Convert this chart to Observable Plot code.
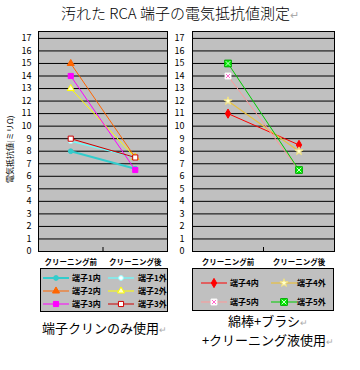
<!DOCTYPE html>
<html><head><meta charset="utf-8">
<script src="https://cdn.jsdelivr.net/npm/d3@7"></script>
<script src="https://cdn.jsdelivr.net/npm/@observablehq/plot@0.6"></script>
<style>
body{margin:0;background:#fff;font-family:"Noto Sans CJK JP","Noto Sans",sans-serif;}
#root{position:relative;width:360px;height:370px;overflow:hidden;}
.abs{position:absolute;white-space:nowrap;}
.ret{color:#aaa;font-size:0.7em;}
svg{overflow:visible;}
</style></head><body><div id="root"></div>
<script>
// ---- data ----
const categories = ["クリーニング前", "クリーニング後"];
const yTicks = [0,1,2,3,4,5,6,7,8,9,10,11,12,13,14,15,16,17];
const leftSeries = ["端子1内", "端子1外", "端子2内", "端子2外", "端子3内", "端子3外"];
const leftBefore = [8, 8.8, 15, 13, 14, 9];
const leftAfter  = [6.6, 7.5, 7.5, 7.5, 6.5, 7.5];
const rightSeries = ["端子4内", "端子4外", "端子5内", "端子5外"];
const rightBefore = [11, 12, 14, 15];
const rightAfter  = [8.5, 8, 6.5, 6.5];
const titleText = "汚れた RCA 端子の電気抵抗値測定";
const yLabel = "電気抵抗値(ミリΩ)";
const leftCaption = ["端子クリンのみ使用"];
const rightCaption = ["綿棒+ブラシ", "+クリーニング液使用"];

// ---- styles ----
const leftStyles = [
  {stroke:"#33cccc", width:2,   symbol:"circle",   fill:"#33cccc", mstroke:"#33cccc", r:2.4},
  {stroke:"#66ffff", width:1.2, symbol:"circle",   fill:"#ffffff", mstroke:"#99ffff", r:2.4},
  {stroke:"#ff6600", width:1,   symbol:"triangle", fill:"#ff6600", mstroke:"#ff6600", r:2.6},
  {stroke:"#ffff00", width:1,   symbol:"triangle", fill:"#ffffcc", mstroke:"#ffff00", r:2.6},
  {stroke:"#ff00ff", width:1,   symbol:"square",   fill:"#ff00ff", mstroke:"#ff00ff", r:2.9},
  {stroke:"#cc0000", width:1,   symbol:"square",   fill:"#ffffff", mstroke:"#cc0000", r:2.9}
];
const rightStyles = [
  {stroke:"#ff0000", width:1,   symbol:"diamond", fill:"#ff0000", mstroke:"#ff0000", r:2.8},
  {stroke:"#e8c040", width:1.2, symbol:"star",    fill:"#ffffcc", mstroke:"#f0e080", r:2.6},
  {stroke:"#ff9999", width:1,   symbol:"square",  fill:"#ffffff", mstroke:"#ffffff", r:3.3, cross:"#ff66cc"},
  {stroke:"#00cc00", width:1,   symbol:"square",  fill:"#00ee00", mstroke:"#00aa00", r:3.8, cross:"#ccffcc"}
];

const root = document.getElementById("root");
function addText(lines, left, top, size, extra = {}) {
  const d = document.createElement("div");
  d.className = "abs";
  Object.assign(d.style, {left: left + "px", top: top + "px", fontSize: size + "px", lineHeight: (extra.lh || size * 1.3) + "px"}, extra.style || {});
  d.innerHTML = lines.map(t => `${t}<span class="ret">↵</span>`).join("<br>");
  root.appendChild(d);
  return d;
}

function chart(series, before, after, styles, o) {
  const rows = series.flatMap((s, i) => [
    {i, x: 0.5, v: before[i]},
    {i, x: 1.5, v: after[i]}
  ]);
  const marks = [
    Plot.frame({fill: "#c0c0c0"}),
    Plot.gridY(yTicks, {stroke: "#000", strokeOpacity: 1}),
    Plot.axisY(yTicks, {tickSize: 0, tickPadding: o.pad, fontSize: 9, label: null, fill: "#000"}),
    Plot.axisX([0.5, 1.5], {tickSize: 0, tickPadding: 8, tickFormat: d => categories[Math.floor(d)], fontSize: 7.5, fontWeight: "bold", label: null}),
    Plot.axisX([1], {tickSize: -4, tickFormat: () => "", label: null, stroke: "#000"}),
    Plot.frame({stroke: "#000"})
  ];
  series.forEach((s, i) => {
    const st = styles[i];
    const d = rows.filter(r => r.i === i);
    marks.push(Plot.line(d, {x: "x", y: "v", stroke: st.stroke, strokeWidth: st.width}));
    marks.push(Plot.dot(d, {x: "x", y: "v", symbol: st.symbol, r: st.r, fill: st.fill, stroke: st.mstroke, strokeWidth: 1}));
    if (st.cross) marks.push(Plot.dot(d, {x: "x", y: "v", symbol: "times", r: st.r * 0.6, stroke: st.cross, strokeWidth: 1}));
  });
  const svg = Plot.plot({
    width: o.width, height: 246,
    marginLeft: o.ml, marginRight: o.mr, marginTop: 6, marginBottom: 20,
    style: {background: "transparent", fontFamily: "'Noto Sans CJK JP', sans-serif", color: "#000", overflow: "visible"},
    x: {domain: [0, 2]},
    y: {domain: [0, 17.55]},
    marks
  });
  svg.style.position = "absolute";
  svg.style.left = o.left + "px";
  svg.style.top = "25px";
  root.appendChild(svg);
}

chart(leftSeries, leftBefore, leftAfter, leftStyles, {width: 170, ml: 38, mr: 3, left: 0, pad: 7});
chart(rightSeries, rightBefore, rightAfter, rightStyles, {width: 190, ml: 22, mr: 26, left: 170, pad: 8});

// ---- legends ----
const symMap = {circle: d3.symbolCircle, triangle: d3.symbolTriangle, square: d3.symbolSquare, diamond: d3.symbolDiamond, star: d3.symbolStar, times: d3.symbolTimes};
function legend(series, styles, box, cols, rowYs, lineXs, textXs) {
  const div = d3.select(root).append("div").attr("class", "abs")
    .style("left", box.x + "px").style("top", box.y + "px")
    .style("width", box.w + "px").style("height", box.h + "px")
    .style("background", "#c0c0c0").style("border", "1px solid #000").style("box-sizing", "border-box");
  series.forEach((s, i) => {
    const st = styles[i];
    const col = i % cols, row = Math.floor(i / cols);
    const y = rowYs[row];
    const svg = div.append("svg").attr("width", 26).attr("height", 12)
      .style("position", "absolute").style("left", lineXs[col] + "px").style("top", (y - 6) + "px");
    svg.append("line").attr("x1", 0).attr("x2", 26).attr("y1", 6).attr("y2", 6).attr("stroke", st.stroke).attr("stroke-width", st.width);
    const size = Math.PI * st.r * st.r;
    svg.append("path").attr("transform", "translate(13,6)").attr("d", d3.symbol(symMap[st.symbol], size)())
      .attr("fill", st.fill).attr("stroke", st.mstroke);
    if (st.cross) svg.append("path").attr("transform", "translate(13,6)").attr("d", d3.symbol(d3.symbolTimes, size * 0.36)())
      .attr("fill", "none").attr("stroke", st.cross);
    div.append("div").attr("class", "abs").text(s)
      .style("left", textXs[col] + "px").style("top", (y - 6) + "px")
      .style("font-size", "8px").style("line-height", "12px").style("font-weight", "bold");
  });
}
legend(leftSeries, leftStyles, {x: 40, y: 268, w: 128, h: 44}, 2, [9, 22, 35], [2, 67], [31, 97]);
legend(rightSeries, rightStyles, {x: 192, y: 268, w: 142, h: 43}, 2, [14, 33], [8, 78], [37, 104]);

// ---- texts ----
addText([titleText], 0, 3, 15, {style: {width: "360px", textAlign: "center", fontWeight: "300"}});
const yl = addText([yLabel], -35, 144, 8, {style: {width: "90px", textAlign: "center", transform: "rotate(-90deg)"}});
yl.querySelector(".ret").remove();
addText(leftCaption, 42, 320, 13);
addText(rightCaption, 188, 312, 13, {lh: 17, style: {width: "160px", textAlign: "center"}});
</script></body></html>
